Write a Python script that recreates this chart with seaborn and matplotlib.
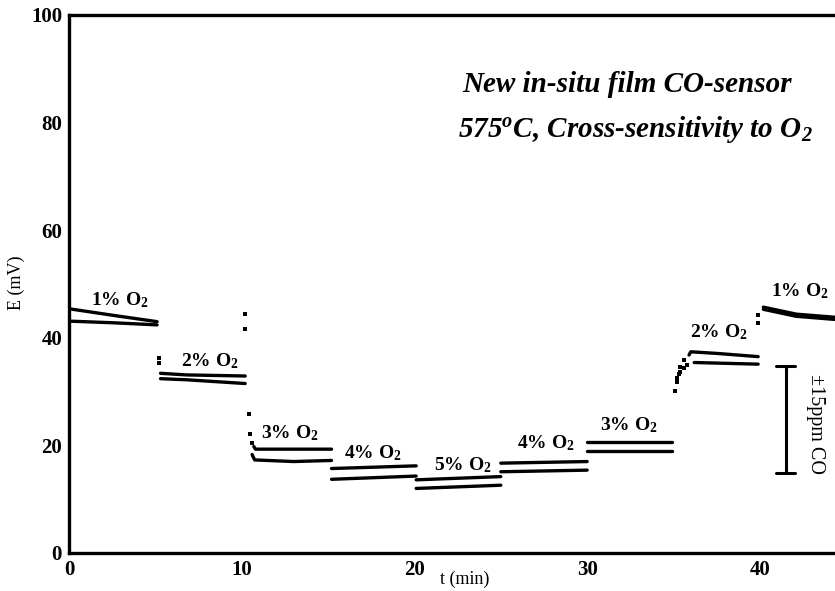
import numpy as np
import pandas as pd
import matplotlib
matplotlib.use('Agg')
import matplotlib.pyplot as plt
import seaborn as sns

# two sensor traces (upper / lower), one pair of arrays per O2 step
t_1a = [0.0, 2.5, 5.1]
up_1a = [45.4, 44.2, 43.0]
lo_1a = [43.1, 42.8, 42.4]

t_2a = [5.3, 6.8, 10.2]
up_2a = [33.4, 33.1, 32.9]
lo_2a = [32.4, 32.2, 31.5]

t_3a_up = [10.7, 10.8, 15.2]
up_3a = [19.8, 19.3, 19.3]
t_3a_lo = [10.6, 10.75, 13.0, 15.2]
lo_3a = [18.3, 17.3, 17.0, 17.2]

t_4a = [15.2, 20.1]
up_4a = [15.7, 16.2]
lo_4a = [13.7, 14.3]

t_5 = [20.1, 25.0]
up_5 = [13.6, 14.2]
lo_5 = [12.0, 12.6]

t_4b = [25.0, 30.0]
up_4b = [16.7, 17.0]
lo_4b = [15.1, 15.4]

t_3b = [30.0, 34.9]
up_3b = [20.7, 20.7]
lo_3b = [19.0, 19.0]

t_2b_up = [35.9, 36.0, 37.5, 39.9]
up_2b = [36.8, 37.4, 37.1, 36.5]
t_2b_lo = [36.2, 36.3, 39.9]
lo_2b = [35.4, 35.4, 35.1]

t_1b = [40.2, 42.1, 44.4]
up_1b = [45.7, 44.4, 43.8]
lo_1b = [45.3, 44.0, 43.4]

# sparse points during the switching transients
dot_t = [5.2, 5.2, 10.2, 10.2, 10.4, 10.5, 10.6,
         35.1, 35.2, 35.3, 35.4, 35.6,
         35.2, 35.4, 35.6, 35.8,
         39.9, 39.9]
dot_e = [36.2, 35.4, 44.4, 41.6, 25.8, 22.2, 20.5,
         30.2, 31.7, 33.3, 34.6, 35.9,
         32.6, 33.7, 34.3, 34.9,
         44.2, 42.8]

labels = ['1% O$_\\mathbf{2}$', '2% O$_\\mathbf{2}$', '3% O$_\\mathbf{2}$', '4% O$_\\mathbf{2}$',
          '5% O$_\\mathbf{2}$', '4% O$_\\mathbf{2}$', '3% O$_\\mathbf{2}$', '2% O$_\\mathbf{2}$',
          '1% O$_\\mathbf{2}$']
label_t = [2.95, 8.15, 12.8, 17.6, 22.8, 27.6, 32.4, 37.6, 42.3]
label_e = [47.0, 35.6, 22.2, 18.5, 16.4, 20.4, 23.8, 41.1, 48.6]

bar_t = 41.5
bar_lo, bar_hi = 14.9, 34.7

sns.set_style('white')
plt.rcParams['font.family'] = ['Liberation Serif', 'DejaVu Serif']
plt.rcParams['mathtext.fontset'] = 'custom'
plt.rcParams['mathtext.rm'] = 'Liberation Serif'
plt.rcParams['mathtext.it'] = 'Liberation Serif:italic'
plt.rcParams['mathtext.bf'] = 'Liberation Serif:bold'
plt.rcParams['mathtext.bfit'] = 'Liberation Serif:italic:bold'
for key in ['text.color', 'axes.labelcolor', 'xtick.color', 'ytick.color']:
    plt.rcParams[key] = 'black'

fig = plt.figure(figsize=(8.35, 5.91), dpi=100)
ax = fig.add_axes([69 / 835, 38 / 591, 1 - 69 / 835, 538 / 591])

segments = [(t_1a, up_1a), (t_1a, lo_1a), (t_2a, up_2a), (t_2a, lo_2a),
            (t_3a_up, up_3a), (t_3a_lo, lo_3a), (t_4a, up_4a), (t_4a, lo_4a),
            (t_5, up_5), (t_5, lo_5), (t_4b, up_4b), (t_4b, lo_4b),
            (t_3b, up_3b), (t_3b, lo_3b), (t_2b_up, up_2b), (t_2b_lo, lo_2b),
            (t_1b, up_1b), (t_1b, lo_1b)]
for tt, ee in segments:
    sns.lineplot(x=tt, y=ee, color='black', lw=2.4, estimator=None, sort=False, ax=ax)

sns.scatterplot(x=dot_t, y=dot_e, marker='s', s=9, color='black', linewidth=0, ax=ax)

for lab, x, y in zip(labels, label_t, label_e):
    ax.text(x, y, lab, ha='center', va='center', fontsize=14, fontweight='bold')

# +-15 ppm CO scale bar
ax.plot([bar_t, bar_t], [bar_lo, bar_hi], color='black', lw=2.2)
ax.plot([bar_t - 0.55, bar_t + 0.55], [bar_lo, bar_lo], color='black', lw=2.2)
ax.plot([bar_t - 0.55, bar_t + 0.55], [bar_hi, bar_hi], color='black', lw=2.2)
ax.text(43.2, 24.0, '±15ppm CO', rotation=-90, ha='center', va='center', fontsize=14.5)

ax.text(32.3, 87.0, 'New in-situ film CO-sensor', ha='center', va='center',
        fontsize=21, fontweight='bold', fontstyle='italic')
ax.text(32.8, 78.8, '575$^\\mathbfit{o}$C, Cross-sensitivity to O$_\\mathbfit{2}$', ha='center',
        va='center', fontsize=21, fontweight='bold', fontstyle='italic')

ax.set_xlim(0, 44.35)
ax.set_ylim(0, 100)
ax.set_xticks([0, 10, 20, 30, 40])
ax.set_yticks([0, 20, 40, 60, 80, 100])
ax.set_xticks(np.arange(0, 45, 2), minor=True)
ax.set_yticks(np.arange(0, 101, 5), minor=True)
ax.tick_params(which='major', direction='in', length=7, width=1.3, labelsize=15, pad=5)
ax.tick_params(which='minor', direction='in', length=3.5, width=1.0)
for lab in ax.get_xticklabels() + ax.get_yticklabels():
    lab.set_fontweight('bold')
ax.set_xlabel('t (min)', fontsize=13)
ax.set_ylabel('E (mV)', fontsize=13)
ax.xaxis.set_label_coords(0.517, -0.032)
ax.yaxis.set_label_coords(-0.057, 0.502)

for side in ['left', 'bottom', 'top']:
    ax.spines[side].set_linewidth(2.4)
    ax.spines[side].set_color('black')
ax.spines['right'].set_visible(False)

fig.savefig('out.png', dpi=100)
